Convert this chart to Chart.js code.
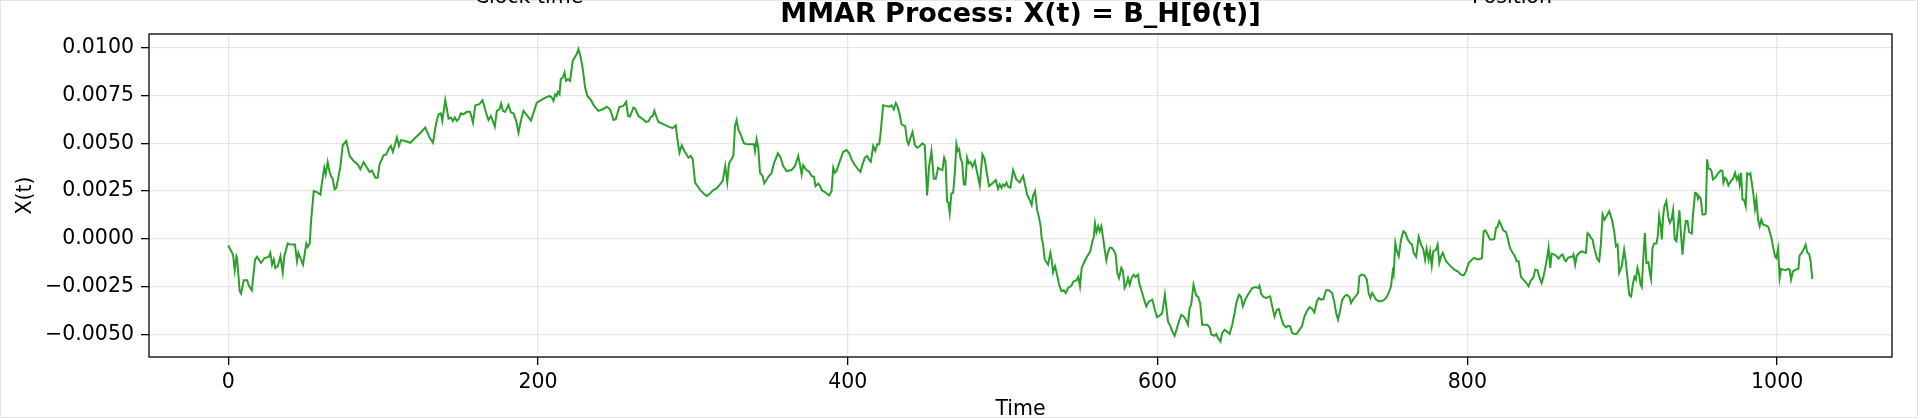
<!DOCTYPE html>
<html>
<head>
<meta charset="utf-8">
<script src="https://cdn.jsdelivr.net/npm/chart.js@4.4.0/dist/chart.umd.min.js"></script>
<style>
  html, body { margin: 0; padding: 0; background: #fff; }
  #wrap { width: 1918px; height: 418px; }
</style>
</head>
<body>
<div id="wrap"><canvas id="myChart" width="1918" height="418"></canvas></div>
<script>
// time stamps
const times = [
  0, 3.1, 4.2, 5.3, 5.7, 7.4, 8.3, 10.0, 12.2, 13.5,
  15.2, 17.3, 18.6, 21.2, 23.4, 26.1, 27.2, 28.3, 29.4, 30.4,
  32.0, 33.7, 35.2, 36.2, 38.4, 40.1, 41.8, 43.1, 44.4, 45.3,
  46.6, 48.3, 50.4, 51.3, 52.6, 53.4, 55.2, 57.3, 59.5, 60.5,
  62.0, 62.9, 64.2, 65.3, 66.3, 67.4, 68.7, 69.8, 72.4, 73.9,
  76.2, 78.4, 81.0, 83.6, 85.3, 87.4, 89.6, 91.3, 92.8, 95.0,
  96.5, 97.7, 100.3, 102.0, 103.5, 105.0, 106.3, 108.9, 110.2, 111.5,
  114.3, 117.5,
  124.0, 127.2, 130.0, 132.2, 134.3, 135.8, 137.3, 138.2, 139.0, 140.1,
  141.2, 142.2, 143.7, 145.0, 146.3, 147.6, 148.7, 150.2, 151.9, 154.1,
  156.2, 158.0, 159.5, 162.2, 164.2, 166.1, 168.0, 169.6, 170.8, 172.1,
  173.4, 175.1, 176.2, 177.3, 178.8, 180.9, 182.5, 184.2, 185.9, 187.4,
  188.9, 190.6, 192.8, 195.4, 197.5, 199.2, 201.8, 205.2, 207.4, 208.9,
  210.0, 211.1, 212.1, 212.8, 213.9, 214.7, 216.0, 217.1, 218.1, 219.4,
  220.7, 222.4, 224.2, 225.0, 226.1, 227.6, 228.9, 230.4, 231.9, 234.1,
  236.2, 239.0, 241.8, 244.4, 246.5, 247.6, 248.7, 250.2, 252.5,
  255.1, 256.9, 258.1, 259.4, 261.6, 262.7, 264.8, 267.2, 269.8, 271.3,
  272.8, 274.1, 275.1, 276.6, 277.7, 280.9, 284.2, 287.0, 288.9, 290.0,
  291.3, 292.8, 294.5, 297.1, 298.6, 299.9, 301.4, 304.2, 306.7, 308.9,
  311.0, 313.2, 315.3, 317.5, 319.2, 320.9, 322.2, 323.3, 324.6, 326.1,
  327.2, 328.2, 329.3, 330.8, 333.0, 335.1, 337.9, 339.4, 340.1, 341.1,
  342.2, 343.3, 345.0, 346.1, 348.7, 350.8, 352.3, 354.9, 356.6, 358.3,
  360.5, 363.7, 365.9, 368.0, 369.1, 370.2, 371.2, 372.9, 375.1, 376.6,
  378.1, 379.2, 380.9, 382.0,
  383.1, 385.2, 388.0, 389.5, 390.6, 391.7, 392.7, 394.9, 397.0, 399.2,
  400.9, 402.4, 404.6, 406.7, 408.2, 409.5, 411.0, 412.5, 413.8, 414.9,
  416.4, 417.7, 419.0, 420.3, 421.1, 422.8, 424.6, 426.7, 428.2, 429.7,
  431.0, 432.1, 433.2, 434.7, 435.7, 437.0, 438.3, 439.2, 440.5, 441.8,
  443.3, 444.8, 446.5, 448.2, 449.7, 451.2, 452.5, 454.0, 455.5, 456.8,
  458.3, 459.8, 461.1, 462.2, 463.1, 464.1, 465.0, 465.8, 466.9, 468.0,
  469.1, 470.1, 471.0, 471.9, 472.7, 473.8, 474.9, 475.9, 477.0, 478.1,
  479.2, 480.5, 482.0, 483.0, 485.2, 486.9, 488.4, 489.9, 491.2, 493.8,
  495.5, 497.0, 498.1, 499.2, 500.2, 501.3, 502.4, 503.5, 505.0, 506.7,
  508.8, 511.0,
  513.2, 514.4, 515.7, 517.5, 518.7, 519.6, 520.9, 522.2, 523.5, 524.5,
  525.2, 526.0, 527.1, 529.3, 530.8, 531.6, 532.5, 533.8, 535.1, 536.4,
  537.9, 539.4, 540.7, 542.2, 544.3, 545.8, 547.6, 548.8, 549.9, 551.0,
  552.9, 554.6, 556.6, 557.9, 558.7, 559.6, 560.5, 561.7, 562.6, 563.7,
  564.8, 565.8, 566.9, 568.0, 569.1, 570.3, 571.6, 572.9, 574.0, 575.1,
  576.6, 577.7, 578.7, 579.8, 580.9, 582.0, 583.2, 584.5, 585.8, 587.3,
  588.4, 590.1, 591.0, 592.7, 594.4, 596.6, 598.1, 599.6, 601.3, 603.0,
  604.7, 605.6, 606.7, 608.2, 609.5, 611.0, 612.5, 613.8, 615.3, 616.8,
  618.1, 619.6, 620.7, 621.7, 623.2, 625.0, 626.2, 627.5, 628.8, 630.3,
  632.0, 633.6, 634.8, 636.8, 637.9, 639.0, 640.6,
  641.7, 643.2, 644.7, 646.5, 648.2, 649.7, 650.8, 652.5, 653.8, 655.1,
  656.8, 658.3, 659.8, 661.1, 663.2, 664.9, 665.8, 666.9, 668.4, 670.1,
  672.7, 674.0, 675.5, 677.0, 678.3, 679.8, 681.3, 683.0, 684.1, 685.6,
  686.9, 688.4, 689.9, 691.6, 693.3, 694.8, 696.3, 698.1, 699.8, 701.3,
  702.8, 704.1, 705.6, 707.1, 708.8, 710.5, 712.7, 714.2, 715.3, 716.5,
  717.8, 719.1, 720.6, 722.1, 723.9, 724.9, 726.4, 728.2, 729.4, 730.3,
  731.6, 733.5, 735.0, 736.3, 737.4, 738.5, 739.3, 741.1, 743.2, 745.8,
  747.5, 749.2, 750.7, 751.8, 752.4, 753.5, 754.4, 755.7, 757.2, 758.7,
  760.0, 761.5, 763.0, 764.3, 765.3, 766.9, 768.6,
  770.1, 771.6, 772.7, 773.7, 775.0, 775.9, 777.0, 778.0, 779.8, 780.8,
  781.9, 783.0, 784.1, 786.2, 788.8, 791.6, 793.7, 795.9, 797.6, 799.1,
  800.8, 803.0, 804.5, 806.6, 808.1, 809.4, 810.5, 811.6, 813.1, 814.6,
  816.3, 817.4, 818.5, 819.5, 820.6, 821.7, 823.2, 824.9, 826.0, 827.5,
  829.2, 830.7, 831.8, 833.1, 834.6, 836.1, 837.8, 839.5, 841.0, 842.5,
  843.8, 845.3, 846.4, 847.9, 849.2, 850.3, 851.8, 852.4, 853.5, 854.4,
  856.1, 857.6, 858.9, 860.4, 861.5, 862.7, 863.6, 864.9, 866.4, 867.9,
  868.5, 869.6, 870.5, 872.2, 873.9, 875.4, 876.5, 877.6, 878.7, 879.7,
  880.8, 881.9, 883.0, 884.0, 885.1, 886.2, 887.3, 888.5, 889.8, 891.6,
  893.3, 894.8, 895.9, 897.0, 898.0,
  899.7, 901.2, 902.3, 903.4, 904.5, 905.7, 907.0, 907.9, 908.8, 909.8,
  910.9, 911.8, 912.6, 913.7, 914.6, 915.6, 916.9, 917.8, 918.6, 919.5,
  920.6, 922.1, 922.9, 923.8, 924.9, 925.5, 926.4, 927.2, 928.5, 929.6,
  930.7, 931.8, 932.8, 933.9, 935.0, 936.1, 936.9, 937.8, 938.9, 940.1,
  941.0, 942.1, 943.2, 944.9, 945.7, 947.0, 948.1, 948.9, 949.6, 950.7,
  951.8, 953.0, 953.9, 954.8, 955.6, 956.7, 957.6, 958.6, 960.4, 962.1,
  963.6, 964.7, 965.3, 966.4, 967.4, 968.5, 970.0, 971.5, 972.8, 973.9,
  975.0, 975.8, 976.7, 977.6, 978.6, 979.7, 980.6, 981.9, 982.7, 983.6,
  984.6, 985.7, 986.6, 987.7, 988.7, 989.8, 990.9, 992.6, 994.3, 995.4,
  996.5, 997.5, 998.6, 999.5, 1000.6, 1001.6, 1002.5, 1003.8, 1005.5, 1007.2,
  1008.1, 1009.0, 1010.2, 1011.9, 1013.7, 1014.5, 1015.8, 1017.3, 1018.4, 1019.5,
  1020.6, 1021.6, 1022.7
];

// X(t) at those times
const values = [
  -0.00035, -0.00082, -0.00164, -0.00091, -0.00100, -0.00274, -0.00287, -0.00217, -0.00217, -0.00248,
  -0.00269, -0.00108, -0.00094, -0.00126, -0.00100, -0.00094, -0.00073, -0.00135, -0.00108, -0.00152,
  -0.00143, -0.00091, -0.00175, -0.00091, -0.00024, -0.00030, -0.00030, -0.00030, -0.00117, -0.00073,
  -0.00100, -0.00135, -0.00024, -0.00042, -0.00024, 0.00084, 0.00250, 0.00245, 0.00231, 0.00294,
  0.00372, 0.00337, 0.00402, 0.00355, 0.00329, 0.00315, 0.00259, 0.00267, 0.00378, 0.00490,
  0.00512, 0.00434, 0.00407, 0.00390, 0.00364, 0.00402, 0.00372, 0.00350, 0.00358, 0.00320,
  0.00320, 0.00390, 0.00437, 0.00442, 0.00469, 0.00486, 0.00455, 0.00530, 0.00486, 0.00517,
  0.00512, 0.00503,
  0.00554, 0.00582, 0.00530, 0.00503, 0.00608, 0.00652, 0.00657, 0.00617, 0.00661, 0.00726,
  0.00678, 0.00629, 0.00635, 0.00617, 0.00635, 0.00617, 0.00626, 0.00657, 0.00652, 0.00666,
  0.00664, 0.00608, 0.00699, 0.00705, 0.00726, 0.00670, 0.00622, 0.00643, 0.00617, 0.00587,
  0.00670, 0.00678, 0.00708, 0.00670, 0.00664, 0.00701, 0.00661, 0.00657, 0.00617, 0.00556,
  0.00617, 0.00670, 0.00647, 0.00619, 0.00670, 0.00713, 0.00726, 0.00740, 0.00748, 0.00740,
  0.00722, 0.00757, 0.00748, 0.00769, 0.00757, 0.00836, 0.00844, 0.00871, 0.00827, 0.00836,
  0.00827, 0.00932, 0.00955, 0.00967, 0.00993, 0.00949, 0.00888, 0.00792, 0.00748, 0.00727,
  0.00696, 0.00670, 0.00678, 0.00691, 0.00678, 0.00652, 0.00622, 0.00626, 0.00690,
  0.00696, 0.00717, 0.00643, 0.00640, 0.00687, 0.00682, 0.00643, 0.00629, 0.00612, 0.00615,
  0.00638, 0.00643, 0.00670, 0.00635, 0.00612, 0.00600, 0.00587, 0.00579, 0.00594, 0.00521,
  0.00451, 0.00490, 0.00460, 0.00425, 0.00434, 0.00416, 0.00294, 0.00262, 0.00238, 0.00224,
  0.00238, 0.00255, 0.00264, 0.00285, 0.00302, 0.00381, 0.00297, 0.00395, 0.00413, 0.00434,
  0.00591, 0.00622, 0.00573, 0.00547, 0.00500, 0.00495, 0.00495, 0.00495, 0.00460, 0.00521,
  0.00477, 0.00346, 0.00329, 0.00290, 0.00325, 0.00346, 0.00395, 0.00448, 0.00425, 0.00381,
  0.00355, 0.00360, 0.00381, 0.00434, 0.00390, 0.00337, 0.00385, 0.00364, 0.00350, 0.00329,
  0.00325, 0.00276, 0.00290, 0.00278,
  0.00255, 0.00245, 0.00227, 0.00250, 0.00372, 0.00346, 0.00355, 0.00407, 0.00455, 0.00465,
  0.00448, 0.00416, 0.00385, 0.00364, 0.00351, 0.00390, 0.00425, 0.00434, 0.00413, 0.00404,
  0.00486, 0.00460, 0.00495, 0.00495, 0.00547, 0.00699, 0.00696, 0.00692, 0.00699, 0.00678,
  0.00710, 0.00692, 0.00661, 0.00600, 0.00594, 0.00591, 0.00512, 0.00495, 0.00530, 0.00559,
  0.00490, 0.00477, 0.00486, 0.00500, 0.00490, 0.00227, 0.00381, 0.00460, 0.00315, 0.00315,
  0.00372, 0.00364, 0.00360, 0.00425, 0.00407, 0.00198, 0.00189, 0.00136, 0.00238, 0.00241,
  0.00346, 0.00495, 0.00460, 0.00469, 0.00425, 0.00399, 0.00285, 0.00285, 0.00425, 0.00395,
  0.00402, 0.00378, 0.00407, 0.00367, 0.00280, 0.00442, 0.00416, 0.00337, 0.00276, 0.00294,
  0.00308, 0.00262, 0.00285, 0.00267, 0.00285, 0.00276, 0.00294, 0.00273, 0.00267, 0.00360,
  0.00311, 0.00295,
  0.00329, 0.00285, 0.00233, 0.00203, 0.00177, 0.00227, 0.00250, 0.00154, 0.00110, 0.00066,
  0.00000, -0.00024, -0.00108, -0.00135, -0.00073, -0.00108, -0.00175, -0.00143, -0.00187, -0.00240,
  -0.00274, -0.00269, -0.00283, -0.00257, -0.00245, -0.00222, -0.00217, -0.00199, -0.00248, -0.00152,
  -0.00117, -0.00091, -0.00065, -0.00012, 0.00005, 0.00080, 0.00035, 0.00066, 0.00040, 0.00066,
  0.00005, -0.00052, -0.00112, -0.00070, -0.00047, -0.00047, -0.00059, -0.00082, -0.00178, -0.00205,
  -0.00152, -0.00170, -0.00257, -0.00240, -0.00205, -0.00240, -0.00205, -0.00187, -0.00199, -0.00187,
  -0.00240, -0.00283, -0.00309, -0.00353, -0.00327, -0.00318, -0.00367, -0.00409, -0.00402, -0.00388,
  -0.00292, -0.00353, -0.00432, -0.00455, -0.00484, -0.00507, -0.00467, -0.00432, -0.00397, -0.00406,
  -0.00420, -0.00449, -0.00362, -0.00344, -0.00240, -0.00297, -0.00304, -0.00336, -0.00449, -0.00449,
  -0.00449, -0.00462, -0.00502, -0.00507, -0.00498, -0.00519, -0.00537,
  -0.00493, -0.00476, -0.00484, -0.00497, -0.00449, -0.00388, -0.00336, -0.00292, -0.00301, -0.00353,
  -0.00315, -0.00292, -0.00274, -0.00257, -0.00252, -0.00257, -0.00245, -0.00287, -0.00304, -0.00309,
  -0.00301, -0.00353, -0.00406, -0.00371, -0.00367, -0.00414, -0.00449, -0.00463, -0.00455, -0.00458,
  -0.00493, -0.00498, -0.00497, -0.00476, -0.00455, -0.00406, -0.00379, -0.00357, -0.00367, -0.00385,
  -0.00327, -0.00309, -0.00318, -0.00315, -0.00269, -0.00269, -0.00283, -0.00336, -0.00388, -0.00423,
  -0.00379, -0.00322, -0.00301, -0.00292, -0.00304, -0.00336, -0.00315, -0.00297, -0.00283, -0.00196,
  -0.00187, -0.00191, -0.00210, -0.00283, -0.00309, -0.00283, -0.00292, -0.00318, -0.00327, -0.00322,
  -0.00309, -0.00283, -0.00248, -0.00170, -0.00187, -0.00021, -0.00059, -0.00091, -0.00003, 0.00040,
  0.00031, -0.00003, -0.00021, -0.00030, -0.00073, -0.00094, 0.00010,
  -0.00030, -0.00056, -0.00108, -0.00052, -0.00108, -0.00065, -0.00140, -0.00065, -0.00056, -0.00030,
  -0.00126, -0.00091, -0.00073, -0.00117, -0.00140, -0.00161, -0.00170, -0.00187, -0.00191, -0.00170,
  -0.00126, -0.00108, -0.00100, -0.00108, -0.00105, -0.00100, 0.00040, 0.00045, 0.00023, -0.00003,
  -0.00003, 0.00000, 0.00058, 0.00063, 0.00093, 0.00075, 0.00045, 0.00037, 0.00005, -0.00047,
  -0.00073, -0.00091, -0.00117, -0.00117, -0.00199, -0.00213, -0.00227, -0.00248, -0.00217, -0.00205,
  -0.00161, -0.00164, -0.00199, -0.00231, -0.00196, -0.00152, -0.00082, -0.00047, -0.00152, -0.00077,
  -0.00082, -0.00091, -0.00103, -0.00087, -0.00082, -0.00108, -0.00117, -0.00100, -0.00094, -0.00094,
  -0.00082, -0.00135, -0.00091, -0.00073, -0.00065, -0.00070, -0.00073, 0.00031, 0.00023, 0.00005,
  -0.00003, -0.00047, -0.00082, -0.00108, -0.00117, -0.00030, 0.00128, 0.00101, 0.00119, 0.00145,
  0.00101, 0.00040, -0.00038, -0.00030, -0.00178,
  -0.00143, -0.00056, -0.00117, -0.00205, -0.00292, -0.00301, -0.00231, -0.00199, -0.00213, -0.00152,
  -0.00187, -0.00240, -0.00252, -0.00082, 0.00031, -0.00126, -0.00122, -0.00178, -0.00210, -0.00047,
  -0.00024, -0.00024, 0.00014, 0.00119, 0.00066, -0.00003, 0.00119, 0.00171, 0.00198, 0.00119,
  0.00084, 0.00101, 0.00150, -0.00003, -0.00012, 0.00084, 0.00150, 0.00035, -0.00082, 0.00031,
  0.00093, 0.00093, 0.00035, 0.00028, 0.00128, 0.00241, 0.00238, 0.00210, 0.00224, 0.00210,
  0.00128, 0.00128, 0.00133, 0.00416, 0.00367, 0.00367, 0.00355, 0.00311, 0.00325, 0.00346,
  0.00358, 0.00355, 0.00294, 0.00320, 0.00311, 0.00280, 0.00302, 0.00315, 0.00346, 0.00311,
  0.00329, 0.00285, 0.00346, 0.00206, 0.00203, 0.00171, 0.00343, 0.00337, 0.00343, 0.00294,
  0.00238, 0.00157, 0.00206, 0.00101, 0.00066, 0.00101, 0.00075, 0.00070, 0.00063, 0.00031,
  -0.00003, -0.00047, -0.00091, -0.00100, -0.00052, -0.00205, -0.00157, -0.00161, -0.00164, -0.00157,
  -0.00161, -0.00213, -0.00170, -0.00161, -0.00157, -0.00087, -0.00073, -0.00052, -0.00030, -0.00073,
  -0.00077, -0.00117, -0.00210
];

const xTicks = [0, 200, 400, 600, 800, 1000];
const yTicks = [-0.005, -0.0025, 0, 0.0025, 0.005, 0.0075, 0.01];
// labels of the panels above, only their lower edge shows
const cutLabels = ['Clock time', 'Position'];

const points = times.map((t, i) => ({ x: t, y: values[i] }));

const font = 'DejaVu Sans';

// box round the plot (matplotlib spines), faint image edge, clipped labels at the top
const frame = {
  id: 'frame',
  afterDraw(chart) {
    const { ctx, chartArea: a, width, height } = chart;
    ctx.save();
    ctx.strokeStyle = '#e6e6e6';
    ctx.lineWidth = 1;
    ctx.strokeRect(0.5, 0.5, width - 1, height - 1);
    ctx.strokeStyle = '#000';
    ctx.lineWidth = 1.3;
    ctx.strokeRect(a.left, a.top, a.right - a.left, a.bottom - a.top);
    ctx.fillStyle = '#000';
    ctx.font = '20.5px "' + font + '"';
    ctx.textAlign = 'center';
    ctx.textBaseline = 'alphabetic';
    ctx.fillText(cutLabels[0], 529, 3);
    ctx.fillText(cutLabels[1], 1512, 3);
    ctx.restore();
  }
};

const config = {
  type: 'line',
  data: {
    datasets: [{
      label: 'X(t)',
      data: points,
      borderColor: '#2ca02c',
      borderWidth: 2,
      pointRadius: 0,
      tension: 0,
      fill: false
    }]
  },
  options: {
    responsive: false,
    animation: false,
    devicePixelRatio: 1,
    layout: { padding: { left: 0, right: 26, top: 0, bottom: 0 } },
    plugins: {
      legend: { display: false },
      tooltip: { enabled: false },
      title: {
        display: true,
        text: 'MMAR Process: X(t) = B_H[θ(t)]',
        fullSize: false,
        color: '#000',
        font: { family: font, size: 27, weight: 'bold', lineHeight: 1.1 },
        padding: { top: 0, bottom: 4.3 }
      }
    },
    scales: {
      x: {
        type: 'linear',
        min: -51.15,
        max: 1074.15,
        afterBuildTicks: s => { s.ticks = xTicks.map(v => ({ value: v })); },
        afterFit: s => { s.height = 61; },
        grid: { color: '#e6e6e6', lineWidth: 1.3, tickColor: '#000', tickLength: 8, tickWidth: 1.3 },
        border: { display: false },
        ticks: {
          color: '#000',
          font: { family: font, size: 20.5 },
          padding: 5,
          maxRotation: 0,
          callback: v => String(v)
        },
        title: {
          display: true,
          text: 'Time',
          color: '#000',
          font: { family: font, size: 20.5, lineHeight: 0.8 },
          padding: 0
        }
      },
      y: {
        min: -0.00618,
        max: 0.01072,
        afterBuildTicks: s => { s.ticks = yTicks.map(v => ({ value: v })); },
        afterFit: s => { s.width = 149; },
        grid: { color: '#e6e6e6', lineWidth: 1.3, tickColor: '#000', tickLength: 8, tickWidth: 1.3 },
        border: { display: false },
        ticks: {
          color: '#000',
          font: { family: font, size: 20.5 },
          padding: 7,
          callback: v => v.toFixed(4).replace('-', '\u2212')
        },
        title: {
          display: true,
          text: 'X(t)',
          color: '#000',
          font: { family: font, size: 20.5 },
          padding: { top: 13, bottom: 0 }
        }
      }
    }
  },
  plugins: [frame]
};

const myChart = new Chart(document.getElementById('myChart'), config);
</script>
</body>
</html>
